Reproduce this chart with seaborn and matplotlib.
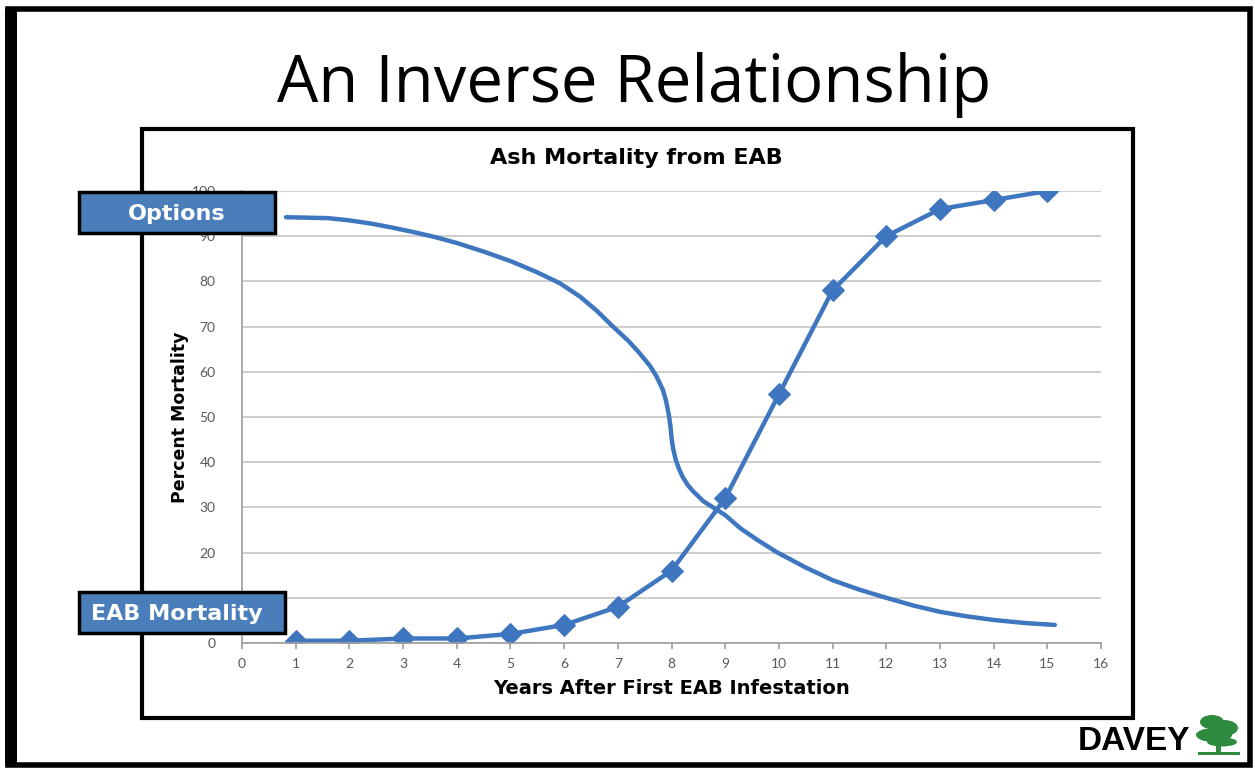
import matplotlib
matplotlib.use("Agg")
import matplotlib.pyplot as plt
import seaborn as sns
import pandas as pd
from matplotlib.patches import Rectangle, Ellipse

# ---- data ----
years = [1, 2, 3, 4, 5, 6, 7, 8, 9, 10, 11, 12, 13, 14, 15]
mortality = [0.5, 0.5, 1, 1, 2, 4, 8, 16, 32, 55, 78, 90, 96, 98, 100]

options_x = [0.82, 1.2, 1.6, 2.0, 2.4, 2.8, 3.2, 3.6, 4.0, 4.5, 5.0, 5.5, 5.92, 6.3,
             6.6, 6.91, 7.2, 7.4, 7.6, 7.72, 7.84, 7.9, 7.95, 7.98, 8.0, 8.03, 8.08,
             8.14, 8.21, 8.3, 8.4, 8.59, 8.8, 9.0, 9.28, 9.6, 9.96, 10.5, 11.0, 11.5,
             12.0, 12.5, 13.0, 13.5, 14.0, 14.6, 15.14]
options_y = [94.2, 94.1, 94.0, 93.5, 92.8, 91.9, 90.9, 89.8, 88.5, 86.6, 84.5, 82.0,
             79.6, 76.6, 73.6, 70.0, 66.8, 64.2, 61.3, 59.0, 56.0, 53.5, 50.5, 48.0,
             45.5, 43.0, 40.5, 38.5, 36.7, 35.0, 33.6, 31.4, 29.8, 28.3, 25.4, 22.8,
             20.1, 16.7, 13.9, 11.8, 10.0, 8.3, 6.9, 5.9, 5.1, 4.4, 4.0]

x_ticks = list(range(0, 17))
y_ticks = list(range(0, 101, 10))

main_title = "An Inverse Relationship"
chart_title = "Ash Mortality from EAB"
x_label = "Years After First EAB Infestation"
y_label = "Percent Mortality"
label_options = "Options"
label_eab = "EAB Mortality"
logo_text = "DAVEY"

blue = "#3f76c0"
box_blue = "#4a7ebb"
BOLD = ["DejaVu Sans"]

sns.set_theme(style="white")
plt.rcParams["font.family"] = ["Lato", "DejaVu Sans"]

W, H = 1255, 770
fig = plt.figure(figsize=(W / 100, H / 100), dpi=100)

def fx(px):
    return px / W

def fy(py):
    return 1 - py / H

# outer frame
fig.patches.append(Rectangle((fx(8), fy(765)), fx(1250) - fx(8), fy(9) - fy(765),
                             transform=fig.transFigure, fill=False, edgecolor="black",
                             linewidth=4, zorder=0))
fig.patches.append(Rectangle((fx(5), fy(765)), fx(12), fy(9) - fy(765),
                             transform=fig.transFigure, facecolor="black", edgecolor="none",
                             zorder=0))
# inner chart box
fig.patches.append(Rectangle((fx(142), fy(718)), fx(1133) - fx(142), fy(129) - fy(718),
                             transform=fig.transFigure, fill=False, edgecolor="black",
                             linewidth=3, zorder=0))

ax = fig.add_axes([fx(242), fy(643), fx(1101) - fx(242), fy(191) - fy(643)])

df_m = pd.DataFrame({"year": years, "mortality": mortality})
df_o = pd.DataFrame({"x": options_x, "y": options_y})

sns.lineplot(data=df_o, x="x", y="y", ax=ax, color=blue, linewidth=3.2,
             sort=False, estimator=None)
sns.lineplot(data=df_m, x="year", y="mortality", ax=ax, color=blue, linewidth=3.2,
             marker="D", markersize=11, markeredgecolor=blue, estimator=None)
for l in ax.lines:
    l.set_solid_joinstyle("round")
    l.set_solid_capstyle("round")

ax.set_xlim(0, 16)
ax.set_ylim(0, 100)
ax.set_xticks(x_ticks)
ax.set_yticks(y_ticks)
ax.set_xticklabels([str(t) for t in x_ticks], fontsize=10, color="#595959")
ax.set_yticklabels([str(t) for t in y_ticks], fontsize=10, color="#595959")
ax.yaxis.grid(True, color="#c0c0c0", linewidth=1.1)
ax.xaxis.grid(False)
ax.set_axisbelow(True)
for s in ["top", "right"]:
    ax.spines[s].set_visible(False)
ax.spines["left"].set_color("#a0a0a0")
ax.spines["bottom"].set_color("#a0a0a0")
ax.tick_params(axis="x", bottom=True, length=4, color="#a0a0a0", pad=7)
ax.tick_params(axis="y", left=False, pad=13)
ax.set_xlabel(x_label, fontsize=14, fontweight="bold", color="black", labelpad=6,
              family=BOLD)
ax.set_ylabel(y_label, fontsize=12.5, fontweight="bold", color="black", labelpad=2,
              family=BOLD)
ax.set_facecolor("none")

fig.text(fx(634), fy(85), main_title, fontsize=47, ha="center", va="center", color="black",
         family=["Open Sans", "DejaVu Sans"])
fig.text(fx(636), fy(158), chart_title, fontsize=16, fontweight="bold", ha="center",
         va="center", color="black", family=BOLD)

# label boxes
for (x0, y0, x1, y1, txt) in [(79, 192, 275, 233, label_options),
                              (79, 592, 285, 633, label_eab)]:
    fig.patches.append(Rectangle((fx(x0), fy(y1)), fx(x1) - fx(x0), fy(y0) - fy(y1),
                                 transform=fig.transFigure, facecolor=box_blue,
                                 edgecolor="black", linewidth=2.5, zorder=5))
    fig.text(fx(177), fy((y0 + y1) / 2 + 1), txt, fontsize=16,
             fontweight="bold", color="white", ha="center", va="center", zorder=6,
             family=BOLD)

# logo
fig.text(fx(1134), fy(741), logo_text, fontsize=24, fontweight="black", ha="center",
         va="center", color="black", family=["Liberation Sans", "DejaVu Sans"])
green = "#2e8b3e"
for (cx, cy, w, h) in [(1212, 722, 24, 14), (1224, 728, 28, 16), (1214, 735, 36, 14),
                       (1222, 742, 30, 9)]:
    fig.patches.append(Ellipse((fx(cx), fy(cy)), fx(w), fy(0) - fy(h),
                               transform=fig.transFigure, facecolor=green,
                               edgecolor="none", zorder=5))
fig.patches.append(Rectangle((fx(1216), fy(753)), fx(5), fy(0) - fy(12),
                             transform=fig.transFigure, facecolor=green,
                             edgecolor="none", zorder=5))
fig.patches.append(Rectangle((fx(1198), fy(755)), fx(42), fy(0) - fy(3),
                             transform=fig.transFigure, facecolor=green,
                             edgecolor="none", zorder=5))

fig.savefig("out.png", dpi=100, facecolor="white")
